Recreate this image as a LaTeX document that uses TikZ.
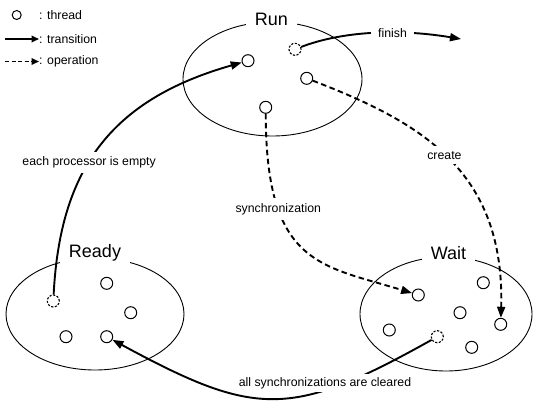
\documentclass[tikz,border=0pt]{standalone}
\usepackage{fontspec}
\setmainfont{Liberation Sans}
\usetikzlibrary{shapes.geometric,arrows.meta}
\begin{document}
\begin{tikzpicture}[x=1pt,y=-1pt,
  thread/.style={circle,draw,line width=1pt,minimum size=12pt,inner sep=0pt},
  dthread/.style={thread,line width=1.1pt,dash pattern=on 2.2pt off 1.5pt},
  state/.style={ellipse,draw,line width=0.9pt,inner sep=0pt},
  title/.style={fill=white,inner xsep=9pt,inner ysep=2pt,font=\fontsize{18}{20}\selectfont},
  lbl/.style={fill=white,inner sep=5pt,font=\fontsize{12.3}{14}\selectfont},
  lgtext/.style={anchor=west,inner sep=0pt,font=\fontsize{12.3}{14}\selectfont},
  trans/.style={line width=1.9pt,-{Triangle[length=11pt,width=8pt]}},
  oper/.style={trans,dash pattern=on 5.5pt off 3.5pt},
  lgtrans/.style={line width=1.7pt,-{Triangle[length=7.5pt,width=6.5pt]}},
  lgoper/.style={lgtrans,dash pattern=on 4pt off 2.5pt}
]
\useasboundingbox (0,0) rectangle (533,400);
\fill[white] (0,0) rectangle (533,400);

% states
\node[state,minimum width=179pt,minimum height=114pt] (run) at (272.5,79) {};
\node[state,minimum width=178pt,minimum height=112pt] (ready) at (95,314) {};
\node[state,minimum width=172pt,minimum height=114pt] (wait) at (446,314) {};
\node[title] (runt) at (271.5,19) {Run};
\node[title] (readyt) at (95,253) {Ready};
\node[title] (waitt) at (448.5,253) {Wait};

% threads in Run
\node[thread] (ru1) at (248,60.7) {};
\node[dthread] (ru2) at (295,49.3) {};
\node[thread] (ru3) at (306.7,78.3) {};
\node[thread] (ru4) at (265.7,107.3) {};
% threads in Ready
\node[dthread] (rd1) at (53.3,301) {};
\node[thread] (rd2) at (106.7,283.3) {};
\node[thread] (rd3) at (130.7,312.7) {};
\node[thread] (rd4) at (66,336.7) {};
\node[thread] (rd5) at (106.7,336.7) {};
% threads in Wait
\node[thread] (wt1) at (418.3,295) {};
\node[thread] (wt2) at (483.3,282.7) {};
\node[thread] (wt3) at (460,312.7) {};
\node[thread] (wt4) at (500.7,324.3) {};
\node[thread] (wt5) at (389.3,330) {};
\node[dthread] (wt6) at (437.3,336.7) {};
\node[thread] (wt7) at (471.7,347.3) {};

% connectors
\coordinate (fin) at (461,39);
\draw[trans] (rd1) .. controls (60,170) and (110,100) .. node[lbl,pos=0.43]{each processor is empty} (ru1);
\draw[trans] (ru2) .. controls (340,32) and (395,28) .. node[lbl,pos=0.63,inner xsep=7pt]{finish} (fin);
\draw[oper] (ru3) .. controls (420,122) and (505,170) .. node[lbl,pos=0.48]{create} (wt4);
\draw[oper] (ru4) .. controls (266,265) and (320,265) .. node[lbl,pos=0.28]{synchronization} (wt1);
\draw[trans] (wt6) .. controls (291,418.5) and (256,417.7) .. (rd5);
\node[lbl,inner sep=3pt] (allc) at (325,383) {all synchronizations are cleared};

% legend
\node[thread,minimum size=9pt] (lgc) at (16.7,15) {};
\node[lgtext] (lgth) at (39,15) {: thread};
\coordinate (lga) at (5,39);
\node[lgtext] (lgtr) at (39,39) {: transition};
\draw[lgtrans] (lga) -- (lgtr.west);
\coordinate (lgb) at (5,61.5);
\node[lgtext] (lgop) at (39,61.5) {: operation};
\draw[lgoper] (lgb) -- (lgop.west);
\end{tikzpicture}
\end{document}
